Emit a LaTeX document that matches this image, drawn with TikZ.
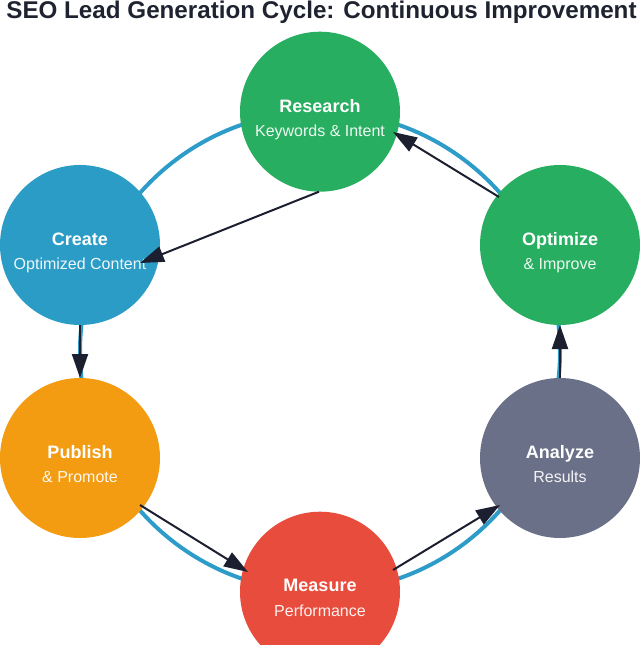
\documentclass[tikz,border=0pt]{standalone}
\usepackage{fontspec}
\setmainfont{Liberation Sans}
\usetikzlibrary{arrows.meta,calc}
\definecolor{ringc}{HTML}{2E9CC8}
\definecolor{createc}{HTML}{2B9CC6}
\definecolor{greenc}{HTML}{27AE60}
\definecolor{orangec}{HTML}{F39C12}
\definecolor{redc}{HTML}{E74C3C}
\definecolor{grayc}{HTML}{6B7089}
\definecolor{arrowc}{HTML}{1B1F30}
\definecolor{titlec}{HTML}{1F2330}
\begin{document}
\begin{tikzpicture}[x=1pt,y=-1pt,
  stage/.style={circle,minimum size=160pt,inner sep=0pt,outer sep=0pt},
  ttl/.style={anchor=base,text=white,font=\bfseries\fontsize{18}{18}\selectfont,inner sep=0pt},
  sub/.style={anchor=base,text=white,text opacity=0.92,font=\fontsize{16}{16}\selectfont,inner sep=0pt},
  flow/.style={draw=arrowc,line width=2pt,-{Triangle[length=24pt 0 0,width=16pt 0 0]}},
  ringstyle/.style={circle,draw=ringc,line width=4pt,minimum size=480pt,inner sep=0pt}]
\useasboundingbox (0,0) rectangle (640,645);
\node[font=\bfseries\fontsize{24.2}{24}\selectfont,text=titlec,anchor=base,inner sep=0pt] (title) at (321.5,18) {SEO Lead Generation Cycle: Continuous Improvement};
\node[ringstyle] (ring) at (320,351.7) {};
\node[stage,fill=greenc] (research) at (320,111.7) {};
\node[stage,fill=createc] (create) at (80,245) {};
\node[stage,fill=greenc] (optimize) at (560,245) {};
\node[stage,fill=orangec] (publish) at (80,458) {};
\node[stage,fill=grayc] (analyze) at (560,458) {};
\node[stage,fill=redc] (measure) at (320,591.7) {};
\node[ttl] (t1) at ($(research)+(0,0.5)$) {Research};
\node[sub] (s1) at ($(research)+(0,24.5)$) {Keywords \& Intent};
\node[ttl] (t2) at ($(create)+(0,0)$) {Create};
\node[sub] (s2) at ($(create)+(0,24.5)$) {Optimized Content};
\node[ttl] (t3) at ($(optimize)+(0,0)$) {Optimize};
\node[sub] (s3) at ($(optimize)+(0,24.5)$) {\& Improve};
\node[ttl] (t4) at ($(publish)+(0,0)$) {Publish};
\node[sub] (s4) at ($(publish)+(0,24.5)$) {\& Promote};
\node[ttl] (t5) at ($(analyze)+(0,0)$) {Analyze};
\node[sub] (s5) at ($(analyze)+(0,24.5)$) {Results};
\node[ttl] (t6) at ($(measure)+(0,0)$) {Measure};
\node[sub] (s6) at ($(measure)+(0,24.5)$) {Performance};
\draw[flow] ($(research)+(-1,80)$) -- ($(create)+(60,18)$);
\draw[flow] ($(create)+(0,80)$) -- ($(publish)+(0,-80)$);
\draw[flow] ($(publish)+(60,47)$) -- ($(measure)+(-72,-19.7)$);
\draw[flow] ($(measure)+(73,-21.7)$) -- ($(analyze)+(-60,47)$);
\draw[flow] ($(analyze)+(0,-80)$) -- ($(optimize)+(0,80)$);
\draw[flow] ($(optimize)+(-61,-48)$) -- ($(research)+(73,20.3)$);
\end{tikzpicture}
\end{document}
